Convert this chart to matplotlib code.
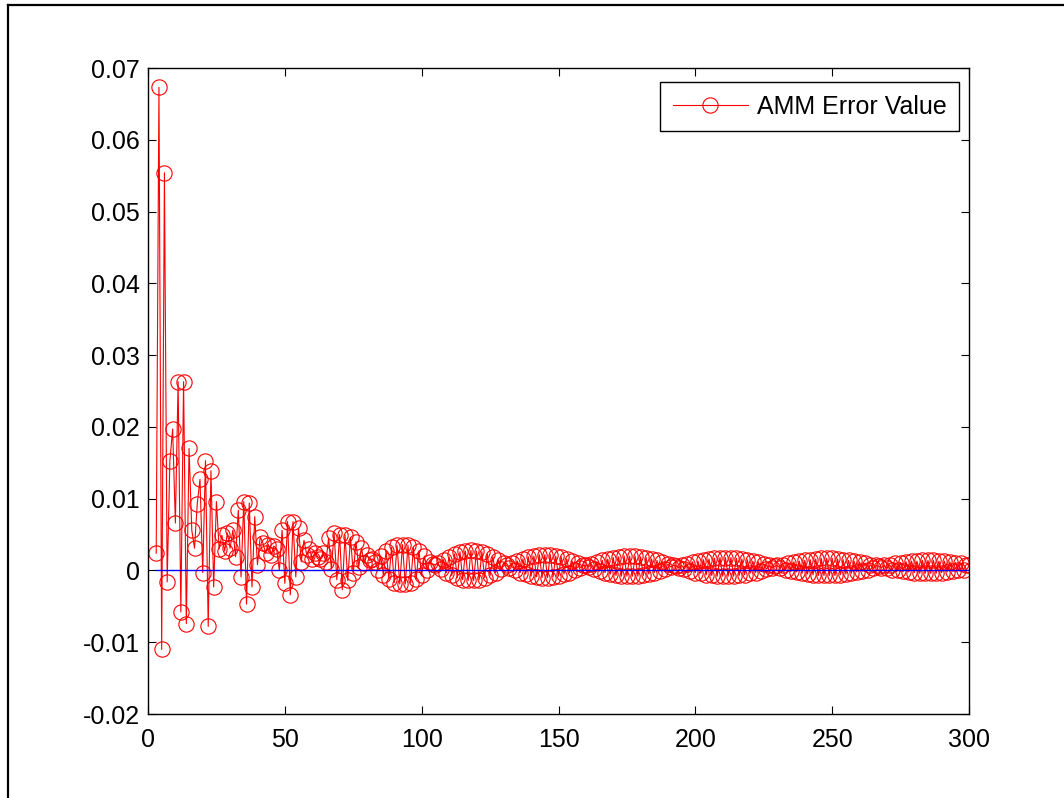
import numpy as np
import matplotlib
matplotlib.use("Agg")
import matplotlib.pyplot as plt
from matplotlib.lines import Line2D
from matplotlib.ticker import FuncFormatter

plt.rcParams['font.family'] = ['Liberation Sans', 'DejaVu Sans']

# AMM error per iteration (x = 3..300)
amm_error = [
    0.0024, 0.0673, -0.0110, 0.0554, -0.0016, 0.0153, 0.0197, 0.0066, 0.0263, -0.0058,
    0.0263, -0.0074, 0.0170, 0.0056, 0.0031, 0.0093, 0.0127, -0.0003, 0.0153, -0.0078,
    0.0139, -0.0023, 0.0096, 0.0030, 0.0049, 0.0027, 0.0052, 0.0031, 0.0056, 0.0019,
    0.0084, -0.0009, 0.0096, -0.0047, 0.0094, -0.0023, 0.0075, 0.0008, 0.0047, 0.0038,
    0.0024, 0.0036, 0.0022, 0.0034, 0.0030, 0.0000, 0.0056, -0.0018, 0.0068, -0.0034,
    0.0068, -0.0009, 0.0059, 0.0012, 0.0042, 0.0022, 0.0030, 0.0016, 0.0025, 0.0019,
    0.0016, 0.0025, 0.0012, 0.0045, 0.0002, 0.0052, -0.0013, 0.0050, -0.0027, 0.0049,
    -0.0014, 0.0046, -0.0004, 0.0040, 0.0005, 0.0031, 0.0010, 0.0022, 0.0014, 0.0016,
    0.0012, 0.0001, 0.0020, -0.0006, 0.0027, -0.0012, 0.0032, -0.0017, 0.0035, -0.0019,
    0.0036, -0.0019, 0.0035, -0.0017, 0.0032, -0.0012, 0.0027, -0.0006, 0.0020, 0.0001,
    0.0012, 0.0009, 0.0008, 0.0010, 0.0002, 0.0015, -0.0003, 0.0019, -0.0007, 0.0023,
    -0.0010, 0.0026, -0.0013, 0.0027, -0.0014, 0.0028, -0.0014, 0.0027, -0.0013, 0.0026,
    -0.0010, 0.0023, -0.0007, 0.0019, -0.0003, 0.0015, 0.0002, 0.0010, 0.0007, 0.0004,
    0.0010, 0.0001, 0.0013, -0.0003, 0.0016, -0.0005, 0.0019, -0.0008, 0.0020, -0.0009,
    0.0022, -0.0010, 0.0022, -0.0010, 0.0022, -0.0009, 0.0020, -0.0008, 0.0019, -0.0005,
    0.0016, -0.0003, 0.0013, 0.0001, 0.0010, 0.0004, 0.0007, 0.0007, 0.0005, 0.0009,
    0.0002, 0.0012, -0.0001, 0.0014, -0.0003, 0.0016, -0.0005, 0.0018, -0.0007, 0.0019,
    -0.0008, 0.0020, -0.0008, 0.0020, -0.0008, 0.0020, -0.0008, 0.0019, -0.0007, 0.0018,
    -0.0005, 0.0016, -0.0003, 0.0014, -0.0001, 0.0012, 0.0002, 0.0009, 0.0005, 0.0007,
    0.0006, 0.0004, 0.0007, 0.0002, 0.0009, -0.0001, 0.0012, -0.0003, 0.0013, -0.0004,
    0.0015, -0.0006, 0.0016, -0.0007, 0.0017, -0.0008, 0.0018, -0.0008, 0.0018, -0.0008,
    0.0018, -0.0008, 0.0017, -0.0007, 0.0016, -0.0006, 0.0015, -0.0004, 0.0013, -0.0003,
    0.0012, -0.0001, 0.0009, 0.0002, 0.0007, 0.0004, 0.0006, 0.0007, 0.0003, 0.0008,
    0.0001, 0.0010, -0.0001, 0.0012, -0.0002, 0.0013, -0.0004, 0.0014, -0.0005, 0.0015,
    -0.0006, 0.0016, -0.0007, 0.0017, -0.0007, 0.0017, -0.0007, 0.0017, -0.0007, 0.0016,
    -0.0006, 0.0015, -0.0005, 0.0014, -0.0004, 0.0013, -0.0002, 0.0012, -0.0001, 0.0010,
    0.0001, 0.0008, 0.0003, 0.0007, 0.0006, 0.0004, 0.0007, 0.0003, 0.0008, 0.0001,
    0.0010, 0.0000, 0.0011, -0.0001, 0.0012, -0.0002, 0.0013, -0.0003, 0.0013, -0.0004,
    0.0014, -0.0004, 0.0014, -0.0004, 0.0014, -0.0004, 0.0013, -0.0003, 0.0013, -0.0002,
    0.0012, -0.0001, 0.0011, 0.0000, 0.0010, 0.0001, 0.0008, 0.0008,
]
iterations = np.arange(3, 301)

x_ticks = [0, 50, 100, 150, 200, 250, 300]
y_ticks = [-0.02, -0.01, 0, 0.01, 0.02, 0.03, 0.04, 0.05, 0.06, 0.07]

fig = plt.figure(figsize=(10.64, 7.98), dpi=100)
ax = fig.add_axes([148 / 1064, 1 - 714 / 798, 821 / 1064, 646 / 798])

ax.plot(iterations, amm_error, color='#ff0000', lw=0.8, marker='o', ms=11,
        mfc='none', mec='#ff0000', mew=0.8, label='AMM Error Value')
ax.plot(iterations, np.zeros(len(iterations)), color='#0000ff', lw=1.0)

ax.set_xlim(0, 300)
ax.set_ylim(-0.02, 0.07)
ax.set_xticks(x_ticks)
ax.set_yticks(y_ticks)
ax.yaxis.set_major_formatter(FuncFormatter(lambda v, p: f'{round(v, 4):g}'))
ax.tick_params(direction='in', top=True, right=True, length=6, width=0.8,
               labelsize=18, colors='black')
ax.tick_params(axis='x', pad=10)
ax.tick_params(axis='y', pad=6)
for s in ax.spines.values():
    s.set_linewidth(1.0)

leg = ax.legend(loc='upper right', bbox_to_anchor=(0.9878, 0.9783),
                borderaxespad=0, fontsize=18, fancybox=False, framealpha=1,
                edgecolor='black', handlelength=3.0, handletextpad=0.35,
                borderpad=0.5)
leg.get_frame().set_linewidth(1.0)

# figure frame (top and left edges)
fig.add_artist(Line2D([8 / 1064, 1], [1 - 5 / 798, 1 - 5 / 798],
                      transform=fig.transFigure, color='black', lw=1.6))
fig.add_artist(Line2D([8 / 1064, 8 / 1064], [0, 1 - 5 / 798],
                      transform=fig.transFigure, color='black', lw=1.6))

fig.savefig('out.png', dpi=100)
